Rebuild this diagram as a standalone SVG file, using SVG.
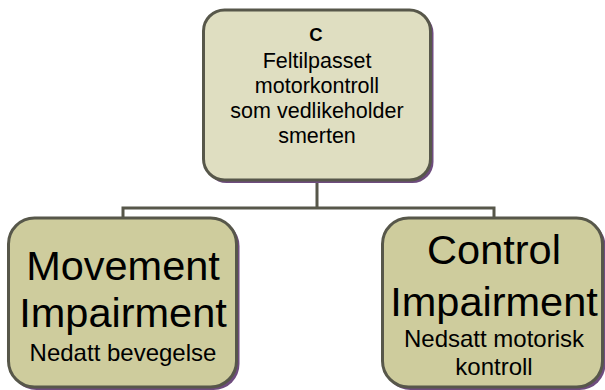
<svg xmlns="http://www.w3.org/2000/svg" width="605" height="390" viewBox="0 0 605 390">
  <style>
    .shadow { fill: #6E4C7E; }
    .box { stroke: #57574A; stroke-width: 3; }
    .top { fill: #DFDEC1; }
    .bottom { fill: #CECC9D; }
    .conn { fill: none; stroke: #57574A; stroke-width: 3; }
    text { font-family: "Liberation Sans", Arial, sans-serif; fill: #000; text-anchor: middle; }
  </style>
  <rect width="605" height="390" fill="#FFFFFF"/>
  <g id="connectors">
    <path class="conn" d="M317 180 V208 M123 218 V208 H494 V218"/>
  </g>
  <g id="node-c">
    <rect class="shadow" x="205.5" y="12" width="228" height="171" rx="21"/>
    <rect class="box top" x="203.5" y="10" width="227" height="170" rx="21"/>
    <text x="316" y="41" font-size="18.5" font-weight="bold">C</text>
    <text x="317" y="68" font-size="21.5">Feltilpasset</text>
    <text x="317" y="93" font-size="21.5">motorkontroll</text>
    <text x="317" y="117.5" font-size="21.5">som vedlikeholder</text>
    <text x="317" y="142.5" font-size="21.5">smerten</text>
  </g>
  <g id="node-movement">
    <rect class="shadow" x="10.5" y="220" width="229" height="170" rx="26"/>
    <rect class="box bottom" x="8.5" y="218" width="228" height="169" rx="26"/>
    <text x="123" y="280" font-size="41.5">Movement</text>
    <text x="123" y="327" font-size="41.5">Impairment</text>
    <text x="123" y="361" font-size="24">Nedatt bevegelse</text>
  </g>
  <g id="node-control">
    <rect class="shadow" x="384.5" y="220" width="221" height="170" rx="26"/>
    <rect class="box bottom" x="382.5" y="218" width="220" height="169" rx="26"/>
    <text x="494" y="263.5" font-size="41.5">Control</text>
    <text x="494" y="316" font-size="41.5">Impairment</text>
    <text x="494" y="347" font-size="24">Nedsatt motorisk</text>
    <text x="494" y="374.5" font-size="24">kontroll</text>
  </g>
</svg>
